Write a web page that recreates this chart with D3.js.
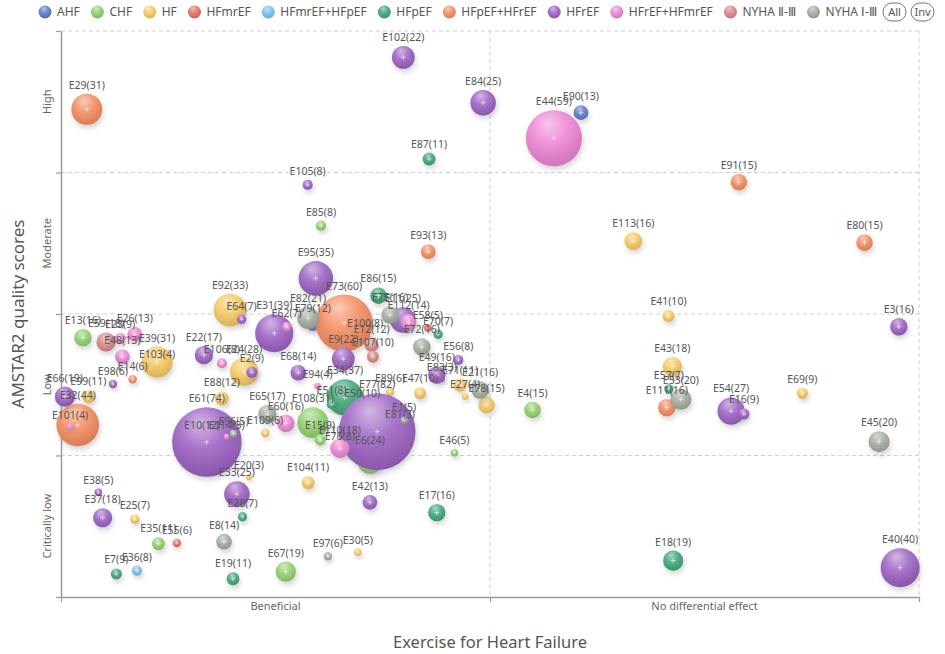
<!DOCTYPE html>
<html><head><meta charset="utf-8">
<script src="https://cdn.jsdelivr.net/npm/d3@7/dist/d3.min.js"></script>
<style>
body{margin:0;background:#fff;}
svg{display:block;font-family:"Noto Sans","Open Sans",sans-serif;}
</style>
</head><body>
<svg id="chart" width="945" height="654"></svg>
<script>
// ---------- DATA ----------
const seriesNames = ["AHF","CHF","HF","HFmrEF","HFmrEF+HFpEF","HFpEF","HFpEF+HFrEF","HFrEF","HFrEF+HFmrEF","NYHA Ⅱ-Ⅲ","NYHA Ⅰ-Ⅲ"];
const seriesColors = ["#5a78c8","#8fd06c","#f6c85e","#ea6a62","#72c3ea","#3ba675","#f58a5c","#9a5fc2","#ec82d2","#d98484","#a2aa9e"];
const xCategories = ["Beneficial","No differential effect"];
const yCategories = ["Critically low","Low","Moderate","High"];
// each row: [study, n, x (0-2), y (0-4)]
const sAHF = [["E90",13,1.212,3.423],["E79",12,0.587,1.929]];
const sCHF = [["E85",8,0.606,2.624],["E13",16,0.051,1.833],["E108",31,0.587,1.232],["E15",9,0.604,1.110],
  ["E6",24,0.720,0.957],["E46",5,0.917,1.020],["E4",15,1.099,1.322],["E35",11,0.227,0.377],["E67",19,0.524,0.179]];
const sHF = [["E92",33,0.394,2.028],["E24",28,0.427,1.592],["E103",4,0.224,1.633],["E39",31,0.224,1.661],
  ["E99",11,0.064,1.416],["E88",12,0.375,1.404],["E109",6,0.476,1.159],["E20",3,0.438,0.846],["E104",11,0.576,0.808],
  ["E25",7,0.172,0.551],["E30",5,0.692,0.316],["E89",6,0.767,1.451],["E47",10,0.837,1.440],["E71",11,0.930,1.498],
  ["E27",4,0.942,1.416],["E78",15,0.992,1.357],["E81",3,0.790,1.208],["E113",16,1.334,2.516],["E41",10,1.416,1.986],
  ["E43",18,1.425,1.628],["E69",9,1.728,1.440]];
const sHFmrEF = [["E55",6,0.270,0.382],["E58",5,0.855,1.901]];
const sHFmrEFpEF = [["E36",8,0.177,0.186]];
const sHFpEF = [["E87",11,0.858,3.095],["E86",15,0.740,2.129],["E70",7,0.879,1.857],["E50",10,0.702,1.336],
  ["E34",37,0.662,1.410],["E51",8,0.631,1.364],["E28",7,0.423,0.567],["E7",9,0.129,0.163],["E19",11,0.401,0.129],
  ["E17",16,0.876,0.596],["E57",7,1.417,1.470],["E18",19,1.427,0.257]];
const sHFpEFrEF = [["E29",31,0.060,3.447],["E93",13,0.856,2.440],["E100",8,0.709,1.837],["E73",60,0.660,1.936],
  ["E14",6,0.167,1.539],["E32",44,0.039,1.216],["E91",15,1.580,2.931],["E80",15,1.873,2.504],["E111",16,1.412,1.338]];
const sHFrEF = [["E102",22,0.798,3.814],["E84",25,0.984,3.493],["E105",8,0.575,2.912],["E95",35,0.594,2.252],
  ["E64",7,0.421,1.963],["E31",39,0.497,1.864],["E11",25,0.797,1.958],["E9",22,0.658,1.682],["E68",14,0.553,1.585],
  ["E22",17,0.333,1.710],["E2",9,0.445,1.588],["E10",12,0.329,1.102],["E61",74,0.340,1.095],["E98",6,0.121,1.505],
  ["E66",19,0.009,1.416],["E77",82,0.737,1.168],["E83",3,0.888,1.541],["E49",16,0.876,1.569],["E56",8,0.926,1.675],
  ["E38",5,0.087,0.740],["E37",18,0.097,0.560],["E33",25,0.410,0.728],["E42",13,0.720,0.669],["E3",16,1.953,1.910],
  ["E54",27,1.562,1.314],["E16",9,1.592,1.293],["E40",40,1.956,0.207]];
const sHFrEFmrEF = [["E44",59,1.149,3.242],["E62",7,0.526,1.910],["E112",14,0.810,1.943],["E26",13,0.172,1.857],
  ["E23",9,0.138,1.828],["E48",13,0.143,1.698],["E106",8,0.375,1.652],["E94",4,0.598,1.491],["E60",16,0.524,1.228],
  ["E76",8,0.650,1.039],["E110",18,0.650,1.051],["E101",4,0.021,1.201],["E114",3,0.386,1.133]];
const sNYHA23 = [["E59",18,0.105,1.802],["E12",12,0.724,1.781],["E107",10,0.727,1.698]];
const sNYHA13 = [["E82",21,0.576,1.972],["E75",16,0.767,1.993],["E72",16,0.841,1.767],["E65",17,0.481,1.293],
  ["E96",5,0.402,1.155],["E1",5,0.800,1.251],["E21",16,0.977,1.463],["E8",14,0.380,0.391],["E97",6,0.622,0.288],
  ["E53",20,1.445,1.397],["E45",20,1.907,1.098]];
const seriesData = [sAHF,sCHF,sHF,sHFmrEF,sHFmrEFpEF,sHFpEF,sHFpEFrEF,sHFrEF,sHFrEFmrEF,sNYHA23,sNYHA13];

// ---------- LAYOUT ----------
const svg = d3.select("#chart");
const L = 61, R = 919, T = 31, B = 597;
const x = d3.scaleLinear().domain([0,2]).range([L,R]);
const y = d3.scaleLinear().domain([0,4]).range([B,T]);
const r = d3.scaleLinear().domain([0,100]).range([1.5,46.5]);
const xBand = d3.scaleBand().domain(xCategories).range([L,R]);
const yBand = d3.scaleBand().domain(yCategories).range([B,T]);

const defs = svg.append("defs");
seriesColors.forEach((c,i)=>{
  const g = defs.append("radialGradient").attr("id","grad"+i)
    .attr("cx","45%").attr("cy","35%").attr("r","70%").attr("fx","40%").attr("fy","22%");
  g.append("stop").attr("offset","0%").attr("stop-color", d3.interpolateRgb(c,"#fff")(0.55));
  g.append("stop").attr("offset","45%").attr("stop-color", d3.interpolateRgb(c,"#fff")(0.14));
  g.append("stop").attr("offset","100%").attr("stop-color", d3.color(c).darker(0.4));
});
const f = defs.append("filter").attr("id","shadow").attr("x","-50%").attr("y","-50%").attr("width","200%").attr("height","200%");
f.append("feDropShadow").attr("dx",1.5).attr("dy",3.5).attr("stdDeviation",2.6)
  .attr("flood-color","#777").attr("flood-opacity",0.3);

// grid
const grid = svg.append("g");
[1,2].forEach(v=>grid.append("line").attr("x1",x(v)).attr("x2",x(v)).attr("y1",T).attr("y2",B)
  .attr("stroke","#cfcfcf").attr("stroke-dasharray","4,3"));
[1,2,3,4].forEach(v=>grid.append("line").attr("x1",L).attr("x2",R).attr("y1",y(v)).attr("y2",y(v))
  .attr("stroke","#cfcfcf").attr("stroke-dasharray","4,3"));

// axes
const xAxisG = svg.append("g").attr("transform",`translate(0,${B})`)
  .call(d3.axisBottom(x).tickValues([0,1,2]).tickFormat("").tickSize(5).tickSizeOuter(0));
xAxisG.select(".domain").attr("stroke","#9a9a9a").attr("stroke-width",1.5);
xAxisG.selectAll(".tick line").attr("stroke","#9a9a9a").attr("stroke-width",1.2);
const xLab = svg.append("g").attr("transform",`translate(0,${B})`)
  .call(d3.axisBottom(xBand).tickSize(0).tickPadding(5));
xLab.select(".domain").remove();
xLab.selectAll("text").attr("font-size",11).attr("fill","#666").attr("font-family","Noto Sans");

const yAxisG = svg.append("g").attr("transform",`translate(${L},0)`)
  .call(d3.axisLeft(y).tickValues([0,1,2,3,4]).tickFormat("").tickSize(5).tickSizeOuter(0));
yAxisG.select(".domain").attr("stroke","#9a9a9a").attr("stroke-width",1.5);
yAxisG.selectAll(".tick line").attr("stroke","#9a9a9a").attr("stroke-width",1.2);
yCategories.forEach(cat=>{
  const cy = yBand(cat)+yBand.bandwidth()/2;
  svg.append("text").attr("transform",`translate(51,${cy}) rotate(-90)`)
    .attr("text-anchor","middle").attr("font-size",11).attr("fill","#666").text(cat);
});

// titles
svg.append("text").attr("x",(L+R)/2).attr("y",648).attr("text-anchor","middle")
  .attr("font-size",16.5).attr("fill","#555").text("Exercise for Heart Failure");
svg.append("text").attr("transform",`translate(24,${(T+B)/2}) rotate(-90)`).attr("text-anchor","middle")
  .attr("font-size",17).attr("fill","#555").text("AMSTAR2 quality scores");

// bubbles
const pts = [];
seriesData.forEach((arr,si)=>arr.forEach(d=>pts.push({label:d[0],n:d[1],x:d[2],y:d[3],s:si})));
const bubbles = svg.append("g");
pts.forEach(p=>{
  const cx = x(p.x), cy = y(p.y), rr = r(p.n);
  bubbles.append("circle").attr("cx",cx).attr("cy",cy).attr("r",rr)
    .attr("fill",`url(#grad${p.s})`).attr("filter","url(#shadow)");
  const k = Math.min(2.5, rr*0.35);
  if (rr>3.5) bubbles.append("path").attr("d",`M${cx-k},${cy}H${cx+k}M${cx},${cy-k}V${cy+k}`)
    .attr("stroke","#fff").attr("stroke-opacity",0.75).attr("stroke-width",0.8);
});
const labels = svg.append("g");
pts.forEach(p=>{
  labels.append("text").attr("x",x(p.x)).attr("y",y(p.y)-r(p.n)-5)
    .attr("text-anchor","middle").attr("font-size",10.5).attr("fill","#555")
    .text(`${p.label}(${p.n})`);
});

// legend
const lg = svg.append("g");
const items = seriesNames.map((name,i)=>{
  const g = lg.append("g");
  g.append("circle").attr("cx",7).attr("cy",0).attr("r",6.5).attr("fill",`url(#grad${i})`);
  const t = g.append("text").attr("x",19).attr("y",4).attr("font-size",12).attr("fill","#555").text(name);
  return {g, w: 19 + t.node().getComputedTextLength()};
});
const start = 38, end = 877;
const total = d3.sum(items, d=>d.w);
const gap = (end - start - total)/(items.length-1);
let cur = start;
items.forEach(it=>{ it.g.attr("transform",`translate(${cur},12)`); cur += it.w + gap; });
[["All",894.5],["Inv",922.5]].forEach(([t,cx])=>{
  lg.append("rect").attr("x",cx-11.5).attr("y",3).attr("width",23).attr("height",18).attr("rx",9)
    .attr("fill","#fff").attr("stroke","#777");
  lg.append("text").attr("x",cx).attr("y",16).attr("text-anchor","middle").attr("font-size",11).attr("fill","#555").text(t);
});
</script>
</body></html>
